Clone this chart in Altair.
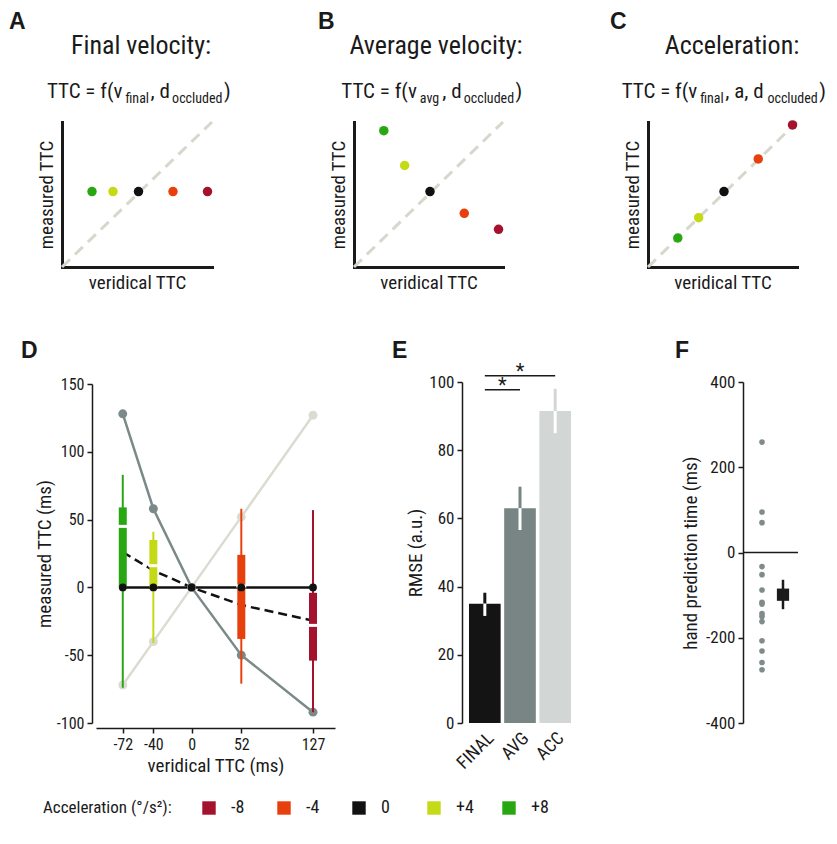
import altair as alt
import pandas as pd

W, H = 821, 828
FONT = "Liberation Sans Narrow, Arial Narrow, Roboto Condensed, Liberation Sans, sans-serif"
BOLD_FONT = "Liberation Sans, Arial, sans-serif"
INK = "#1a1a1a"

# ---------------- data ----------------
ACCEL = ["-8", "-4", "0", "+4", "+8"]
ACCEL_COLORS = ["#a5122d", "#e8400d", "#111111", "#c4da17", "#29a713"]

# schematic panels A-C (left to right: +8, +4, 0, -4, -8)
SCHEM_ACCEL = ["+8", "+4", "0", "-4", "-8"]
SCHEM_X = [0.20, 0.34, 0.51, 0.74, 0.97]
A_Y = [0.52, 0.52, 0.52, 0.52, 0.52]
B_Y = [0.94, 0.70, 0.52, 0.37, 0.26]
C_Y = [0.20, 0.34, 0.52, 0.745, 0.98]
DIAG = [0, 1]

# panel D
VERIDICAL = [-72, -40, 0, 52, 127]
PRED_FINAL = [0, 0, 0, 0, 0]
PRED_AVG = [128, 58, 0, -50, -92]
PRED_ACC = [-72, -40, 0, 52, 127]
OBS_FIT = [26, 12.5, 0, -13, -24.5]
BOX_ACCEL = ["+8", "+4", "-4", "-8"]
BOX_X = [-72, -40, 52, 127]
BOX_WLO = [-74, -41, -71, -92]
BOX_Q1 = [0, 0, -38, -54]
BOX_MED = [45, 16, 1, -28]
BOX_Q3 = [59, 35, 24, -4]
BOX_WHI = [83, 41, 58, 57]
D_YTICKS = [-100, -50, 0, 50, 100, 150]

# panel E
MODELS = ["FINAL", "AVG", "ACC"]
RMSE = [35, 63, 91.5]
RMSE_LO = [31.4, 56.6, 85]
RMSE_HI = [38.2, 69.3, 98]
MODEL_COLORS = ["#141414", "#788584", "#d2d7d6"]
SIG_FROM = ["FINAL", "FINAL"]
SIG_TO = ["AVG", "ACC"]
SIG_Y = [97.7, 101.8]
STAR_AT = ["FINAL", "AVG"]
E_YTICKS = [0, 20, 40, 60, 80, 100]

# panel F
HAND_TIMES = [259, 95, 70, -33, -52, -88, -117, -121, -143, -150, -162, -207, -231, -258, -275]
HAND_MEAN = [-99]
HAND_LO = [-133]
HAND_HI = [-64]
F_YTICKS = [-400, -200, 0, 200, 400]
ZERO = [0]

# formulas: (text, is_subscript) segments
FORMULA_A = [("TTC = f(v", False), ("final", True), (", d", False), ("occluded", True), (")", False)]
FORMULA_B = [("TTC = f(v", False), ("avg", True), (", d", False), ("occluded", True), (")", False)]
FORMULA_C = [("TTC = f(v", False), ("final", True), (", a, d", False), ("occluded", True), (")", False)]

# ---------------- helpers ----------------
color_scale = alt.Scale(domain=ACCEL, range=ACCEL_COLORS)
legend_obj = alt.Legend(
    title="Acceleration (°/s²):", orient="none", legendX=35, legendY=791,
    direction="horizontal", titleOrient="left", titleFontSize=17,
    titleFontWeight="normal", titleFont=FONT, labelFont=FONT, labelFontSize=18,
    symbolType="square", symbolSize=180, symbolStrokeWidth=0, symbolOpacity=1,
    gridAlign="all", columnPadding=26, labelOffset=13, titlePadding=28,
    titleColor=INK, labelColor=INK,
)


def accel_color(legend=None):
    return alt.Color("accel:N", scale=color_scale, legend=legend)


def note(text, x, y, size, align="left", weight="normal", font=FONT):
    return alt.Chart(pd.DataFrame({"t": [text]})).mark_text(
        align=align, baseline="alphabetic", fontSize=size, fontWeight=weight,
        font=font, color=INK
    ).encode(text="t:N", x=alt.value(x), y=alt.value(y))


# approximate advance widths (em) of a narrow sans, used to chain formula pieces
_EM = {"T": .611, "C": .722, " ": .278, "=": .584, "f": .278, "(": .333, "v": .5,
       ",": .278, "d": .556, ")": .333, "a": .556, "i": .222, "n": .556, "l": .222,
       "o": .556, "c": .5, "u": .556, "e": .556, "g": .556}


def text_width(s, size):
    return sum(_EM.get(ch, .55) for ch in s) * 0.88 * size


def formula(segments, center, base, main=21, sub=14, gap=2.5):
    widths = [text_width(t, sub if s else main) + (gap if s else 1.0) for t, s in segments]
    x = center - sum(widths) / 2
    out = []
    for (t, s), w in zip(segments, widths):
        out.append(note(t, round(x, 1), base + (5 if s else 0), sub if s else main))
        x += w
    return out


def schematic(ys, x0, x1, with_legend=False):
    xs = alt.Scale(domain=[0, 1], range=[x0, x1], nice=False, zero=False)
    ysc = alt.Scale(domain=[0, 1], range=[259, 114], nice=False, zero=False)
    ax_x = alt.Axis(orient="bottom", offset=259 - H, labels=False, ticks=False,
                    domainWidth=3, domainColor=INK, domainCap="square",
                    title="veridical TTC", titleFontSize=19, titlePadding=6)
    ax_y = alt.Axis(orient="left", offset=-x0, labels=False, ticks=False,
                    domainWidth=3, domainColor=INK, domainCap="square",
                    title="measured TTC", titleFontSize=19, titlePadding=6)
    diag = alt.Chart(pd.DataFrame({"v": DIAG})).mark_line(
        color="#d8d7cd", strokeWidth=3, strokeDash=[11, 7]
    ).encode(x=alt.X("v:Q", scale=xs, axis=ax_x), y=alt.Y("v:Q", scale=ysc, axis=ax_y))
    df = pd.DataFrame({"x": SCHEM_X, "y": ys, "accel": SCHEM_ACCEL})
    pts = alt.Chart(df).mark_circle(size=90, opacity=1).encode(
        x=alt.X("x:Q", scale=xs, axis=ax_x), y=alt.Y("y:Q", scale=ysc, axis=ax_y),
        color=accel_color(legend_obj if with_legend else None))
    return alt.layer(diag, pts)


panelA = schematic(A_Y, 54, 204, with_legend=True)
panelB = schematic(B_Y, 346, 495)
panelC = schematic(C_Y, 640, 789)

# ---------------- panel D ----------------
xs_D = alt.Scale(domain=[-100, 150], range=[88, 327], nice=False, zero=False)
ys_D = alt.Scale(domain=[-100, 150], range=[715, 376], nice=False, zero=False)
ax_Dx = alt.Axis(orient="bottom", offset=720 - H, values=VERIDICAL,
                 labelExpr="toString(datum.value)", tickSize=5, labelPadding=3,
                 labelFontSize=16, title="veridical TTC (ms)", titleFontSize=19,
                 titlePadding=4, domainWidth=1.5, tickWidth=1.5)
ax_Dy = alt.Axis(orient="left", offset=-84, values=D_YTICKS,
                 labelExpr="toString(datum.value)", tickSize=5, labelPadding=3,
                 labelFontSize=16, title="measured TTC (ms)", titleFontSize=19,
                 titlePadding=2, domainWidth=1.5, tickWidth=1.5)


def DX(f):
    return alt.X(f, type="quantitative", scale=xs_D, axis=ax_Dx)


def DY(f):
    return alt.Y(f, type="quantitative", scale=ys_D, axis=ax_Dy)


df_lines = pd.DataFrame({"x": VERIDICAL, "final": PRED_FINAL, "avg": PRED_AVG,
                         "acc": PRED_ACC, "obs": OBS_FIT})
df_box = pd.DataFrame({"x": BOX_X, "accel": BOX_ACCEL, "wlo": BOX_WLO, "q1": BOX_Q1,
                       "med": BOX_MED, "q3": BOX_Q3, "whi": BOX_WHI})

d_acc_line = alt.Chart(df_lines).mark_line(color="#dcdbd2", strokeWidth=2.5).encode(x=DX("x"), y=DY("acc"))
d_acc_pts = alt.Chart(df_lines).mark_circle(color="#dcdbd2", size=80, opacity=1).encode(x=DX("x"), y=DY("acc"))
d_avg_line = alt.Chart(df_lines).mark_line(color="#7b8a89", strokeWidth=2.5).encode(x=DX("x"), y=DY("avg"))
d_avg_pts = alt.Chart(df_lines).mark_circle(color="#7b8a89", size=80, opacity=1).encode(x=DX("x"), y=DY("avg"))
d_fin_line = alt.Chart(df_lines).mark_line(color="#111111", strokeWidth=2.5).encode(x=DX("x"), y=DY("final"))
d_obs_line = alt.Chart(df_lines).mark_line(color="#111111", strokeWidth=2.5, strokeDash=[9, 5]).encode(x=DX("x"), y=DY("obs"))
d_whisk = alt.Chart(df_box).mark_rule(strokeWidth=2).encode(x=DX("x"), y=DY("wlo"), y2="whi", color=accel_color())
d_boxes = alt.Chart(df_box).mark_rule(strokeWidth=8).encode(x=DX("x"), y=DY("q1"), y2="q3", color=accel_color())
d_med = alt.Chart(df_box).mark_tick(color="white", orient="horizontal", size=10, thickness=3, opacity=1).encode(x=DX("x"), y=DY("med"))
d_fin_pts = alt.Chart(df_lines).mark_circle(color="#111111", size=60, opacity=1).encode(x=DX("x"), y=DY("final"))

panelD = alt.layer(d_acc_line, d_avg_line, d_fin_line, d_obs_line, d_acc_pts, d_avg_pts,
                   d_whisk, d_boxes, d_med, d_fin_pts)

# ---------------- panel E ----------------
xs_E = alt.Scale(domain=MODELS, range=[461, 563], paddingInner=0.1, paddingOuter=0)
ys_E = alt.Scale(domain=[0, 100], range=[715, 374], nice=False, zero=False)
ax_Ex = alt.Axis(orient="bottom", offset=715 - H, domain=False, ticks=False,
                 labelAngle=315, labelAlign="right", labelBaseline="top",
                 labelPadding=6, labelFontSize=18, title=None)
ax_Ey = alt.Axis(orient="left", offset=-454, values=E_YTICKS, tickSize=5, labelPadding=3,
                 labelFontSize=17, title="RMSE (a.u.)", titleFontSize=19, titlePadding=3,
                 domainWidth=1.5, tickWidth=1.5)


def EX(f):
    return alt.X(f, type="nominal", scale=xs_E, axis=ax_Ex, sort=MODELS)


def EY(f):
    return alt.Y(f, type="quantitative", scale=ys_E, axis=ax_Ey)


df_e = pd.DataFrame({"model": MODELS, "rmse": RMSE, "lo": RMSE_LO, "hi": RMSE_HI})
df_sig = pd.DataFrame({"a": SIG_FROM, "b": SIG_TO, "y": SIG_Y, "star": STAR_AT})
model_fill = alt.Fill("model:N", scale=alt.Scale(domain=MODELS, range=MODEL_COLORS), legend=None)
model_stroke = alt.Stroke("model:N", scale=alt.Scale(domain=MODELS, range=MODEL_COLORS), legend=None)

e_bars = alt.Chart(df_e).mark_bar(opacity=1).encode(x=EX("model"), y=EY("rmse"), fill=model_fill)
e_up = alt.Chart(df_e).mark_rule(strokeWidth=3).encode(x=EX("model"), y=EY("rmse"), y2="hi", stroke=model_stroke)
e_dn = alt.Chart(df_e).mark_rule(strokeWidth=3, color="white").encode(x=EX("model"), y=EY("lo"), y2="rmse")
e_sig = alt.Chart(df_sig).mark_rule(strokeWidth=1.5, color=INK).encode(
    x=alt.X("a:N", scale=xs_E, axis=ax_Ex, sort=MODELS, bandPosition=0.5),
    x2=alt.X2("b:N", bandPosition=0.5), y=EY("y"))
e_star1 = alt.Chart(df_sig.iloc[[0]]).mark_text(text="*", fontSize=20, dx=17.5, dy=2, baseline="alphabetic", color=INK).encode(
    x=EX("star"), y=EY("y"))
e_star2 = alt.Chart(df_sig.iloc[[1]]).mark_text(text="*", fontSize=20, dy=2, baseline="alphabetic", color=INK).encode(
    x=EX("star"), y=EY("y"))

panelE = alt.layer(e_bars, e_up, e_dn, e_sig, e_star1, e_star2)

# ---------------- panel F ----------------
xs_F = alt.Scale(type="point", domain=["subjects", "mean"], range=[754, 775], padding=0)
ys_F = alt.Scale(domain=[-400, 400], range=[715, 374], nice=False, zero=False)
ax_Fy = alt.Axis(orient="left", offset=-735, values=F_YTICKS, labelExpr="toString(datum.value)",
                 tickSize=5, labelPadding=3, labelFontSize=17,
                 title="hand prediction time (ms)", titleFontSize=19, titlePadding=5,
                 domainWidth=1.5, tickWidth=1.5)


def FY(f):
    return alt.Y(f, type="quantitative", scale=ys_F, axis=ax_Fy)


df_dots = pd.DataFrame({"g": ["subjects"] * len(HAND_TIMES), "t": HAND_TIMES})
df_mean = pd.DataFrame({"g": ["mean"], "m": HAND_MEAN, "lo": HAND_LO, "hi": HAND_HI})
f_zero = alt.Chart(pd.DataFrame({"y": ZERO})).mark_rule(color=INK, strokeWidth=1.5).encode(
    x=alt.value(735), x2=alt.value(790), y=FY("y"))
f_dots = alt.Chart(df_dots).mark_circle(size=32, color="#7f8c8b", opacity=1).encode(
    x=alt.X("g:N", scale=xs_F, axis=None), y=FY("t"))
f_err = alt.Chart(df_mean).mark_rule(color=INK, strokeWidth=2.5).encode(
    x=alt.X("g:N", scale=xs_F, axis=None), y=FY("lo"), y2="hi")
f_mean = alt.Chart(df_mean).mark_square(size=150, color=INK, opacity=1).encode(
    x=alt.X("g:N", scale=xs_F, axis=None), y=FY("m"))

panelF = alt.layer(f_zero, f_dots, f_err, f_mean)

# ---------------- annotations ----------------
notes = [
    note("A", 1, 21, 23, weight="bold", font=BOLD_FONT),
    note("B", 310, 21, 23, weight="bold", font=BOLD_FONT),
    note("C", 602, 21, 23, weight="bold", font=BOLD_FONT),
    note("D", 13, 350, 23, weight="bold", font=BOLD_FONT),
    note("E", 384, 350, 23, weight="bold", font=BOLD_FONT),
    note("F", 667, 350, 23, weight="bold", font=BOLD_FONT),
    note("Final velocity:", 133, 46, 26, align="center"),
    note("Average velocity:", 428, 46, 26, align="center"),
    note("Acceleration:", 724, 46, 26, align="center"),
]
notes += formula(FORMULA_A, 131, 90)
notes += formula(FORMULA_B, 424, 90)
notes += formula(FORMULA_C, 716, 90)

chart = alt.layer(panelA, panelB, panelC, panelD, panelE, panelF, *notes).resolve_scale(
    x="independent", y="independent"
).properties(
    width=W, height=H, autosize=alt.AutoSizeParams(type="none"), padding=0
).configure_view(stroke=None).configure_axis(
    grid=False, labelFont=FONT, titleFont=FONT, labelColor=INK, titleColor=INK,
    domainColor=INK, tickColor=INK, titleFontWeight="normal"
).configure_text(font=FONT)

chart.save("out.html", embed_options={"renderer": "svg", "actions": False})
